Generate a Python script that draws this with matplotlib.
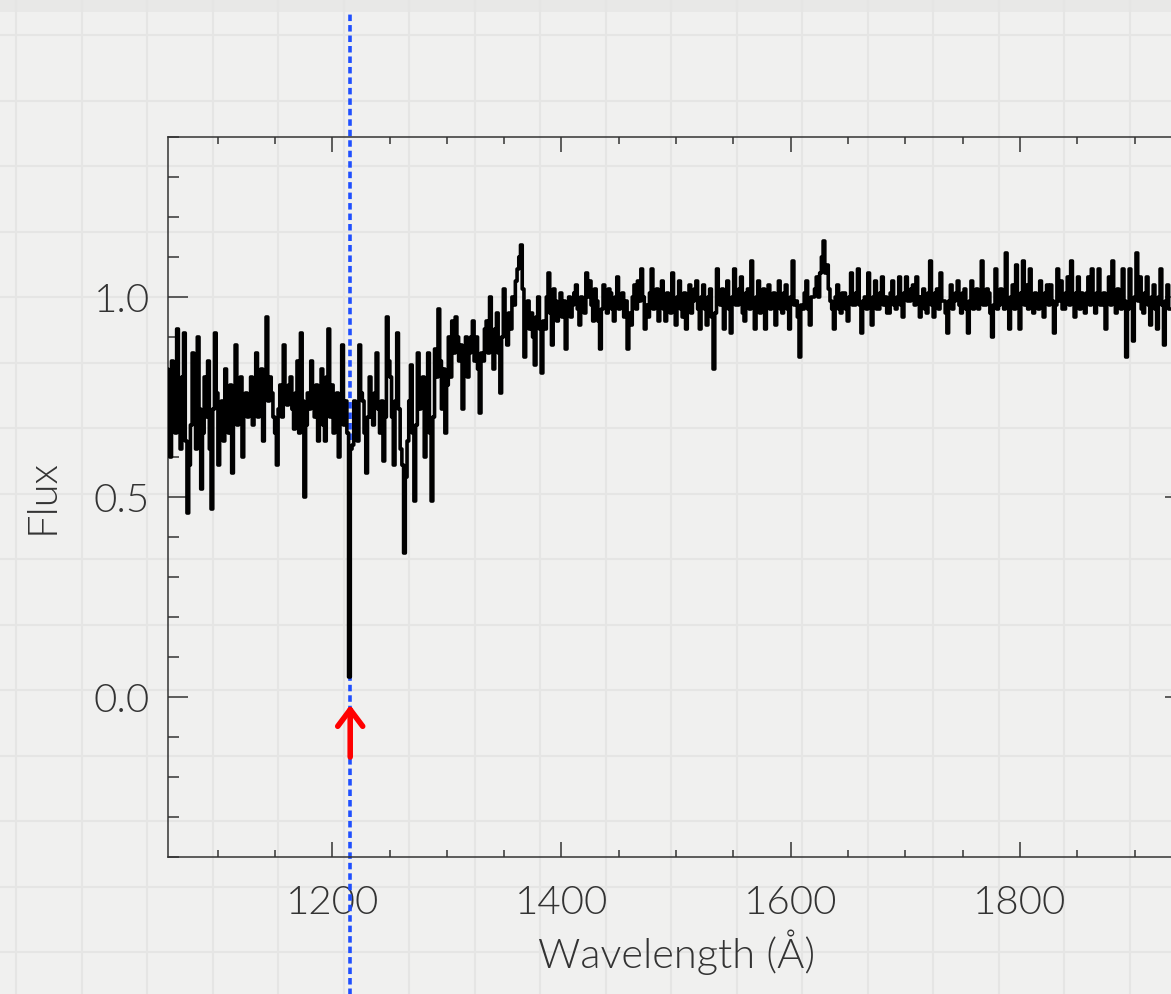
import numpy as np
import matplotlib
matplotlib.use("Agg")
import matplotlib.pyplot as plt
from matplotlib.lines import Line2D
from matplotlib.patches import Rectangle
from matplotlib.ticker import MultipleLocator

# normalised UV spectrum, sampled every 1.5 A from 1056 A
wave_start = 1056.0
wave_step = 1.5
flux = [
    # 1056 - 1204.5
    0.82, 0.70, 0.60, 0.84, 0.78, 0.66, 0.92, 0.74, 0.62, 0.80,
    0.91, 0.64, 0.46, 0.58, 0.68, 0.86, 0.74, 0.62, 0.90, 0.72,
    0.52, 0.66, 0.80, 0.70, 0.84, 0.62, 0.47, 0.72, 0.91, 0.76,
    0.58, 0.66, 0.74, 0.64, 0.82, 0.76, 0.66, 0.78, 0.56, 0.72,
    0.88, 0.68, 0.70, 0.80, 0.60, 0.72, 0.76, 0.70, 0.74, 0.80,
    0.68, 0.74, 0.86, 0.70, 0.77, 0.82, 0.64, 0.76, 0.95, 0.74,
    0.80, 0.76, 0.70, 0.66, 0.58, 0.72, 0.78, 0.70, 0.88, 0.74,
    0.73, 0.78, 0.80, 0.72, 0.67, 0.76, 0.84, 0.66, 0.91, 0.74,
    0.50, 0.68, 0.76, 0.72, 0.84, 0.74, 0.70, 0.78, 0.64, 0.72,
    0.82, 0.68, 0.64, 0.80, 0.92, 0.70, 0.78, 0.66, 0.70, 0.76,
    # 1206 - 1354.5
    0.60, 0.72, 0.88, 0.68, 0.74, 0.66, 0.05, 0.62, 0.63, 0.74,
    0.70, 0.64, 0.88, 0.76, 0.74, 0.66, 0.56, 0.70, 0.80, 0.70,
    0.68, 0.76, 0.86, 0.72, 0.66, 0.74, 0.59, 0.70, 0.95, 0.84,
    0.80, 0.70, 0.58, 0.74, 0.91, 0.72, 0.62, 0.58, 0.36, 0.55,
    0.64, 0.74, 0.83, 0.66, 0.49, 0.68, 0.86, 0.72, 0.75, 0.80,
    0.60, 0.74, 0.86, 0.66, 0.49, 0.70, 0.87, 0.80, 0.97, 0.84,
    0.72, 0.82, 0.66, 0.78, 0.90, 0.80, 0.94, 0.86, 0.95, 0.90,
    0.84, 0.88, 0.72, 0.82, 0.90, 0.80, 0.86, 0.90, 0.94, 0.84,
    0.90, 0.82, 0.71, 0.86, 0.84, 0.92, 0.94, 0.86, 1.00, 0.90,
    0.82, 0.92, 0.96, 0.86, 0.76, 0.90, 1.02, 0.94, 0.88, 0.96,
    # 1356 - 1504.5
    0.92, 1.00, 0.98, 1.04, 1.07, 1.10, 1.13, 1.02, 0.85, 0.94,
    0.99, 0.92, 0.96, 0.90, 0.83, 0.95, 1.00, 0.92, 0.81, 0.94,
    0.92, 1.00, 1.06, 0.96, 0.88, 1.02, 0.99, 0.94, 0.97, 1.01,
    0.95, 0.99, 0.87, 0.96, 1.00, 0.95, 0.98, 1.01, 1.03, 0.97,
    0.93, 1.00, 0.99, 0.96, 1.06, 1.00, 1.04, 0.98, 0.94, 1.02,
    0.99, 0.94, 0.87, 0.97, 1.03, 0.98, 0.96, 1.02, 1.01, 0.97,
    0.94, 1.00, 1.05, 0.97, 0.98, 1.01, 0.95, 0.99, 0.87, 0.96,
    0.93, 1.00, 1.03, 0.97, 1.04, 0.99, 1.07, 1.00, 0.92, 0.98,
    0.95, 1.01, 1.07, 0.97, 0.98, 1.02, 0.94, 1.00, 1.04, 0.97,
    0.94, 1.01, 1.00, 0.96, 1.06, 0.99, 0.93, 1.00, 1.04, 0.97,
    # 1506 - 1654.5
    0.95, 1.01, 0.92, 0.99, 1.03, 0.96, 0.99, 1.02, 1.04, 0.97,
    0.92, 1.00, 1.03, 0.97, 0.93, 1.00, 1.02, 0.95, 0.82, 0.96,
    1.07, 0.99, 0.98, 1.02, 0.92, 0.98, 1.04, 0.97, 0.91, 1.00,
    1.07, 0.98, 0.98, 1.02, 1.05, 0.96, 0.94, 1.01, 1.02, 0.97,
    1.09, 0.99, 0.92, 1.00, 1.04, 0.96, 0.99, 1.02, 0.92, 0.98,
    1.03, 0.97, 0.98, 1.01, 0.93, 0.98, 1.04, 0.97, 0.96, 1.01,
    1.03, 0.97, 0.92, 1.00, 1.09, 0.98, 0.99, 0.95, 0.85, 0.98,
    0.97, 1.01, 1.04, 0.97, 0.93, 1.00, 1.00, 1.02, 1.05, 1.00,
    1.06, 1.10, 1.14, 1.06, 1.08, 1.02, 0.99, 0.97, 0.92, 1.00,
    1.03, 0.97, 0.96, 1.01, 1.01, 0.97, 0.94, 1.00, 1.06, 0.98,
    # 1656 - 1804.5
    0.98, 1.01, 1.07, 0.98, 0.91, 0.99, 1.00, 0.97, 1.06, 0.99,
    0.93, 1.00, 1.04, 0.97, 0.97, 1.01, 1.05, 0.98, 1.00, 0.96,
    0.96, 1.01, 1.04, 0.98, 0.97, 1.00, 1.05, 0.98, 0.95, 1.01,
    1.05, 0.99, 0.99, 1.02, 1.03, 0.98, 1.05, 1.00, 0.95, 1.00,
    1.02, 0.97, 0.96, 1.01, 1.09, 0.98, 0.95, 1.01, 1.02, 0.97,
    1.06, 0.99, 0.99, 0.96, 0.91, 0.99, 1.03, 0.97, 0.99, 1.01,
    1.04, 0.98, 0.96, 1.01, 1.02, 0.97, 0.91, 0.99, 1.04, 0.97,
    0.98, 1.02, 0.97, 1.00, 1.09, 0.98, 0.98, 1.02, 1.01, 0.96,
    0.90, 0.98, 1.07, 0.97, 0.98, 1.02, 1.00, 0.97, 1.11, 0.99,
    0.92, 1.00, 1.03, 0.97, 1.08, 0.99, 0.92, 1.01, 1.09, 0.98,
    # 1806 - 1944
    1.03, 0.97, 1.07, 1.00, 0.96, 1.01, 1.00, 0.97, 1.04, 0.99,
    0.95, 1.01, 1.03, 0.98, 1.03, 0.99, 0.91, 0.98, 1.07, 0.99,
    1.04, 0.97, 0.97, 1.01, 1.05, 0.98, 1.09, 1.00, 0.95, 1.01,
    1.05, 0.97, 1.01, 0.98, 0.96, 1.01, 1.05, 0.98, 1.07, 0.99,
    0.96, 1.01, 1.07, 0.98, 0.98, 1.01, 0.92, 0.99, 1.05, 0.98,
    1.09, 1.00, 0.96, 1.02, 1.01, 0.97, 1.07, 0.99, 0.85, 0.97,
    1.07, 0.98, 0.89, 1.00, 1.11, 0.99, 1.05, 0.97, 0.96, 1.01,
    1.05, 0.98, 0.93, 1.00, 1.03, 0.97, 0.92, 1.00, 1.07, 0.98,
    0.88, 0.99, 1.03, 0.97, 0.97, 1.01, 1.02, 0.98, 0.95, 1.00,
    1.04, 0.98, 0.99,
]
wave = wave_start + wave_step * np.arange(len(flux))

lya = 1215.67          # Lyman alpha
xlim = (1056.7, 1944.0)
ylim = (-0.4, 1.4)

paper = "#f0f0ef"
paper_line = "#e5e5e4"
ink = "#333333"

plt.rcParams["font.family"] = ["Lato", "DejaVu Sans"]
plt.rcParams["font.weight"] = 300
plt.rcParams["axes.labelweight"] = 300

W, H = 1171, 994
fig = plt.figure(figsize=(W / 100, H / 100), dpi=100, facecolor=paper)

# graph paper background
fig.add_artist(Rectangle((0, 1 - 12 / H), 1, 12 / H, transform=fig.transFigure,
                         color="#e8e8e7", lw=0, zorder=-10))
for px in np.arange(16, W, 65.5):
    fig.add_artist(Line2D([px / W, px / W], [0, 1], transform=fig.transFigure,
                          color=paper_line, lw=1.5, zorder=-5))
for py in np.arange(35, H, 65.5):
    fig.add_artist(Line2D([0, 1], [1 - py / H, 1 - py / H], transform=fig.transFigure,
                          color=paper_line, lw=1.5, zorder=-5))

ax = fig.add_axes([168 / W, (H - 857) / H, (1185 - 168) / W, 720 / H])
ax.set_facecolor("none")

ax.axvline(lya, ymin=-0.2, ymax=1 + 125 / 720, clip_on=False, color="#1f4fff",
           lw=2.6, dashes=(1.8, 1.1), zorder=2)
# histogram-style trace, as IDL psym=10 draws it
ax.plot(wave, flux, color="black", lw=2.6, drawstyle="steps-mid", zorder=3)

ax.annotate("", xy=(lya, -0.02), xytext=(lya, -0.15),
            arrowprops=dict(arrowstyle="->,head_length=0.6,head_width=0.45",
                            color="red", lw=4.0, shrinkA=0, shrinkB=0,
                            mutation_scale=20), zorder=4)

ax.set_xlim(*xlim)
ax.set_ylim(*ylim)

ax.xaxis.set_major_locator(MultipleLocator(200))
ax.xaxis.set_minor_locator(MultipleLocator(50))
ax.yaxis.set_major_locator(MultipleLocator(0.5))
ax.yaxis.set_minor_locator(MultipleLocator(0.1))
ax.yaxis.set_major_formatter(plt.FuncFormatter(lambda v, p: f"{v:.1f}"))

for s in ax.spines.values():
    s.set_color(ink)
    s.set_linewidth(1.1)

ax.tick_params(axis="both", which="both", direction="in", top=True, right=True,
               color=ink, width=1.1, labelcolor=ink, labelsize=29)
ax.tick_params(axis="x", which="major", length=10.5, pad=20)
ax.tick_params(axis="x", which="minor", length=5)
ax.tick_params(axis="y", which="major", length=14.5, pad=13)
ax.tick_params(axis="y", which="minor", length=8)
for lab in ax.get_xticklabels() + ax.get_yticklabels():
    lab.set_fontweight(300)

ax.set_xlabel("Wavelength (Å)", fontsize=30, color=ink, fontweight=300, labelpad=6)
ax.set_ylabel("Flux", fontsize=30, color=ink, fontweight=300, labelpad=24)

fig.savefig("out.png", dpi=100, facecolor=paper)
